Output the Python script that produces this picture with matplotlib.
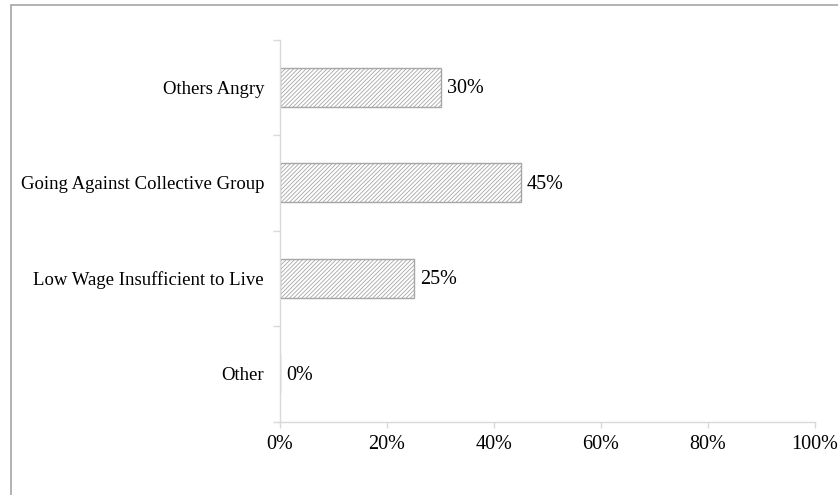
import matplotlib
matplotlib.use("Agg")
import matplotlib.pyplot as plt
from matplotlib.patches import Rectangle

categories = ["Other", "Low Wage Insufficient to Live", "Going Against Collective Group", "Others Angry"]
values = [0, 25, 45, 30]
xticks = [0, 20, 40, 60, 80, 100]
xtick_labels = ["0%", "20%", "40%", "60%", "80%", "100%"]

plt.rcParams['font.family'] = ['Liberation Serif', 'DejaVu Serif']
plt.rcParams['hatch.color'] = '#a6a6a6'
plt.rcParams['hatch.linewidth'] = 0.6

W, H = 838, 495
fig = plt.figure(figsize=(W / 100, H / 100), dpi=100)
ax = fig.add_axes([280 / W, 1 - 421.5 / H, (815 - 280) / W, (421.5 - 39.5) / H])

ypos = list(range(len(categories)))
ax.barh(ypos, values, height=0.41, color='white', edgecolor='#a6a6a6',
        hatch='////////', linewidth=1.0)
for y, v in zip(ypos, values):
    ax.annotate(f"{v}%", xy=(v, y), xytext=(4.5, -1), textcoords='offset points',
                va='center', ha='left', fontsize=14.5, color='black')

ax.set_xlim(0, 100)
ax.set_ylim(-0.5, len(categories) - 0.5)
ax.set_xticks(xticks)
ax.set_xticklabels(xtick_labels, fontsize=14.5)
ax.set_yticks(ypos)
ax.set_yticklabels(categories, fontsize=13.5)
ax.set_yticks([i + 0.5 for i in range(-1, len(categories))], minor=True)
ax.tick_params(axis='y', which='major', length=0, pad=11.5)
ax.tick_params(axis='y', which='minor', length=5, color='#d9d9d9', width=1)
ax.tick_params(axis='x', which='major', length=4, color='#d9d9d9', width=1, pad=6)

for s in ['top', 'right']:
    ax.spines[s].set_visible(False)
for s in ['left', 'bottom']:
    ax.spines[s].set_color('#d9d9d9')
    ax.spines[s].set_linewidth(1)

border = Rectangle((11 / W, -0.2), 1.2, 1 - 5 / H + 0.2, transform=fig.transFigure,
                   fill=False, edgecolor='#a6a6a6', linewidth=1.2, clip_on=False)
fig.patches.append(border)

fig.savefig("out.png", dpi=100)
